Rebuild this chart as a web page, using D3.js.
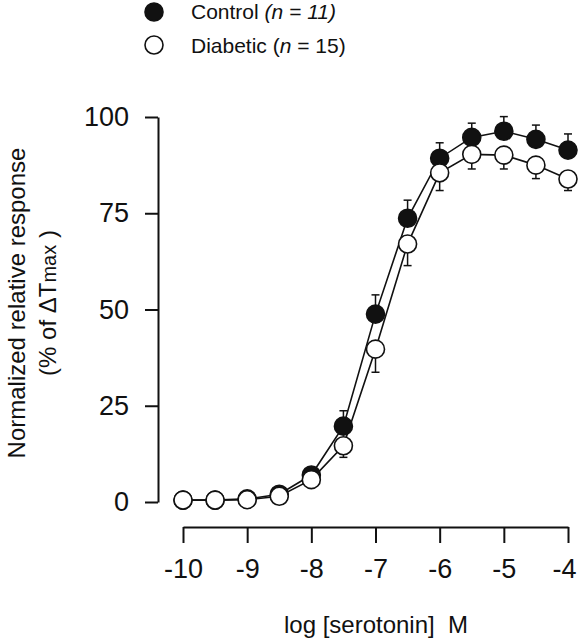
<!DOCTYPE html>
<html><head><meta charset="utf-8">
<script src="https://cdn.jsdelivr.net/npm/d3@7"></script>
<style>body{margin:0;background:#fff}svg{display:block}text{font-family:"Liberation Sans",Arial,Helvetica,sans-serif;fill:#111}</style>
</head><body>
<script>
const logConc = [-10,-9.5,-9,-8.5,-8,-7.5,-7,-6.5,-6,-5.5,-5,-4.5,-4];
const controlMean = [0.5,0.5,0.8,2,7,19.7,48.8,73.7,89.3,94.7,96.3,94.2,91.4];
const controlSE   = [0,0,0,0,1,4,5,4.7,4,3.7,3.8,3.7,4.2];
const diabeticMean = [0.5,0.5,0.6,1.5,5.8,14.6,39.7,67,85.5,90.3,90.1,87.5,83.9];
const diabeticSE   = [0,0,0,0,0.8,3,6,5.6,4.6,3.8,3.6,3.5,3];
const xTicks = [-10,-9,-8,-7,-6,-5,-4];
const xTickLabels = ["-10","-9","-8","-7","-6","-5","-4"];
const yTicks = [0,25,50,75,100];

const W=581,H=640;
const svg=d3.select("body").append("svg").attr("width",W).attr("height",H);
const x=d3.scaleLinear().domain([-10,-4]).range([183,568]);
const y=d3.scaleLinear().domain([0,100]).range([502,117]);

// y axis
const ya=svg.append("g").attr("transform","translate(158,0)")
  .call(d3.axisLeft(y).tickValues(yTicks).tickSize(13).tickPadding(16).tickSizeOuter(0));
ya.select(".domain").attr("stroke","#111").attr("stroke-width",2);
ya.selectAll(".tick line").attr("stroke","#111").attr("stroke-width",2);
ya.selectAll(".tick text").attr("font-size",27).attr("font-family",'"Liberation Sans",Arial,sans-serif').attr("fill","#111");

// x axis
const xa=svg.append("g").attr("transform","translate(0,527)")
  .call(d3.axisBottom(x).tickValues(xTicks).tickFormat((d,i)=>xTickLabels[i]).tickSize(16).tickPadding(16).tickSizeOuter(0));
xa.select(".domain").attr("stroke","#111").attr("stroke-width",2);
xa.selectAll(".tick line").attr("stroke","#111").attr("stroke-width",2);
xa.selectAll(".tick text").attr("font-size",27).attr("font-family",'"Liberation Sans",Arial,sans-serif').attr("fill","#111");
xa.selectAll(".tick").filter(d=>d===-4).select("text").attr("dx",-4);

// titles
svg.append("text").attr("x",376).attr("y",633).attr("text-anchor","middle").attr("font-size",24)
  .attr("xml:space","preserve").text("log [serotonin]  M");
const yt=svg.append("g").attr("transform","translate(0,303) rotate(-90)");
yt.append("text").attr("x",0).attr("y",25).attr("text-anchor","middle").attr("font-size",24).text("Normalized relative response");
const t2=yt.append("text").attr("x",0).attr("y",56).attr("text-anchor","middle").attr("font-size",24);
t2.append("tspan").text("(% of ΔT");
t2.append("tspan").attr("font-size",20).text("max");
t2.append("tspan").text(" )");

const series=[
  {mean:controlMean,se:controlSE,dir:1,fill:"#111"},
  {mean:diabeticMean,se:diabeticSE,dir:-1,fill:"#fff"}
];
const line=d3.line().x(d=>x(d[0])).y(d=>y(d[1]));
series.forEach(s=>{
  svg.append("path").datum(logConc.map((c,i)=>[c,s.mean[i]]))
    .attr("d",line).attr("fill","none").attr("stroke","#111").attr("stroke-width",1.6);
});
series.forEach(s=>{
  const g=svg.append("g");
  logConc.forEach((c,i)=>{
    if(!s.se[i]) return;
    const yy=y(s.mean[i]+s.dir*s.se[i]);
    g.append("line").attr("x1",x(c)).attr("x2",x(c)).attr("y1",y(s.mean[i])).attr("y2",yy).attr("stroke","#111").attr("stroke-width",1.5);
    g.append("line").attr("x1",x(c)-4).attr("x2",x(c)+4).attr("y1",yy).attr("y2",yy).attr("stroke","#111").attr("stroke-width",1.5);
  });
});
series.forEach(s=>{
  svg.append("g").selectAll("circle").data(logConc).join("circle")
    .attr("cx",d=>x(d)).attr("cy",(d,i)=>y(s.mean[i])).attr("r",9)
    .attr("fill",s.fill).attr("stroke","#111").attr("stroke-width",1.6);
});

// legend
svg.append("circle").attr("cx",154).attr("cy",12).attr("r",9).attr("fill","#111").attr("stroke","#111").attr("stroke-width",1.6);
svg.append("circle").attr("cx",154).attr("cy",45).attr("r",9).attr("fill","#fff").attr("stroke","#111").attr("stroke-width",1.6);
const l1=svg.append("text").attr("x",191).attr("y",19).attr("font-size",21).attr("xml:space","preserve");
l1.append("tspan").text("Control ");
l1.append("tspan").attr("font-style","italic").text("(n = 11)");
const l2=svg.append("text").attr("x",191).attr("y",53).attr("font-size",21).attr("xml:space","preserve");
l2.append("tspan").text("Diabetic (");
l2.append("tspan").attr("font-style","italic").text("n");
l2.append("tspan").text(" = 15)");
</script>
</body></html>
